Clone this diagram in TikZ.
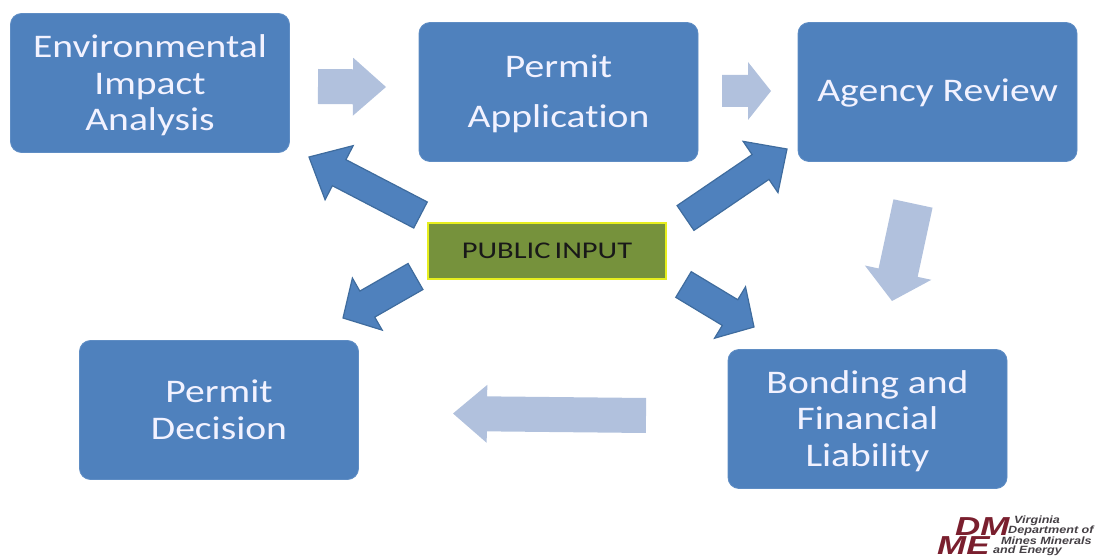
\documentclass[tikz,border=0pt]{standalone}
\usepackage{fontspec}
\setmainfont[FakeStretch=1.2,Ligatures=NoCommon]{Carlito}
\newfontfamily\publicfont[FakeStretch=1.27,Ligatures=NoCommon,WordSpace=0.6]{Carlito}
\newfontfamily\logofont[FakeStretch=1.2]{Liberation Sans}
\usetikzlibrary{calc}

\definecolor{boxblue}{HTML}{4F81BD}
\definecolor{boxedge}{HTML}{5F8DC4}
\definecolor{arrowedge}{HTML}{3F6C9E}
\definecolor{paleblue}{HTML}{B1C1DD}
\definecolor{publicgreen}{HTML}{76923C}
\definecolor{publicedge}{HTML}{E6EE1E}
\definecolor{logored}{HTML}{7A1F2E}
\definecolor{logogray}{HTML}{454045}

\tikzset{
	stepbox/.style={draw=boxedge,line width=0.8pt,fill=boxblue,rounded corners=11pt,minimum width=279pt,minimum height=139pt,inner sep=0pt,align=center,text=white!95!blue,font=\fontsize{33}{36.5}\selectfont},
	publicbox/.style={draw=publicedge,line width=2.2pt,fill=publicgreen,minimum width=238pt,minimum height=56pt,inner sep=0pt,text=black!90,font=\publicfont\fontsize{24}{28}\selectfont},
	inputarrow/.style={draw=arrowedge,line width=1.2pt,fill=boxblue,line join=miter},
	flowarrow/.style={fill=paleblue,draw=none},
	logoline/.style={anchor=west,inner sep=0pt,text=logogray,font=\logofont\bfseries\itshape\fontsize{10.5}{10.5}\selectfont},
	logomark/.style={anchor=west,inner sep=0pt,xscale=1.12,text=logored,font=\logofont\bfseries\itshape\fontsize{26}{26}\selectfont}
}

% from, to, half shaft, half head, head length
\newcommand{\blockarrow}[6]{
	\coordinate(hb) at ($(#3)!#6!(#2)$);
	\draw [#1]($(#2)!#4!90:(#3)$)--($(hb)!#4!90:(#3)$)--($(hb)!#5!90:(#3)$)--(#3)
		--($(hb)!#5!-90:(#3)$)--($(hb)!#4!-90:(#3)$)--($(#2)!#4!-90:(#3)$)--cycle;
}
% taller first line, so the text sits lower in its box
\newcommand{\lift}[1]{\rule{0pt}{#1}}

\begin{document}
\begin{tikzpicture}[x=1pt,y=-1pt]
\useasboundingbox (0,0) rectangle (1098,556);

% boxes
\node[stepbox] (env) at (150,83) {\lift{28pt}Environmental\\Impact\\Analysis};
\node[stepbox] (application) at (558.5,92) {\lift{26pt}Permit\\[14pt]Application};
\node[stepbox] (agency) at (937.5,92) {\lift{25pt}Agency Review};
\node[stepbox] (decision) at (219,410) {Permit\\Decision};
\node[stepbox] (bonding) at (867.5,419) {\lift{26.5pt}Bonding and\\Financial\\Liability};
\node[publicbox] (public) at (547,251) {PUBLIC INPUT};

% pale arrows
\coordinate(s1) at (318,86.5);
\coordinate(t1) at (386,87);
\coordinate(s2) at (722,91);
\coordinate(t2) at (771,91);
\coordinate(s3) at (913,203.5);
\coordinate(t3) at (892,301);
\coordinate(s4) at (646,415.5);
\coordinate(t4) at (453,413.5);

\blockarrow{flowarrow}{s1}{t1}{17.5pt}{29pt}{33pt}
\blockarrow{flowarrow}{s2}{t2}{16pt}{29pt}{23pt}
\blockarrow{flowarrow}{s3}{t3}{20pt}{34pt}{29pt}
\blockarrow{flowarrow}{s4}{t4}{17.5pt}{29pt}{34pt}

% public input arrows
\coordinate(s5) at (420.5,215);
\coordinate(t5) at (309,157);
\coordinate(s6) at (685.5,218);
\coordinate(t6) at (787,149);
\coordinate(s7) at (415.5,276.5);
\coordinate(t7) at (343,318);
\coordinate(s8) at (683.5,284.5);
\coordinate(t8) at (754,327);

\blockarrow{inputarrow}{s5}{t5}{14.7pt}{30.5pt}{34pt}
\blockarrow{inputarrow}{s6}{t6}{15pt}{31pt}{32pt}
\blockarrow{inputarrow}{s7}{t7}{15pt}{30pt}{28pt}
\blockarrow{inputarrow}{s8}{t8}{15pt}{30pt}{28pt}

% logo
\node[logomark] (dm) at (955,527) {DM};
\node[logomark] (me) at (937,546) {ME};
\node[logoline] (virginia) at (1014,521) {Virginia};
\node[logoline] (department) at (1008,531) {Department of};
\node[logoline] (mines) at (1001,541) {Mines Minerals};
\node[logoline] (energy) at (993,551) {and Energy};
\end{tikzpicture}
\end{document}
